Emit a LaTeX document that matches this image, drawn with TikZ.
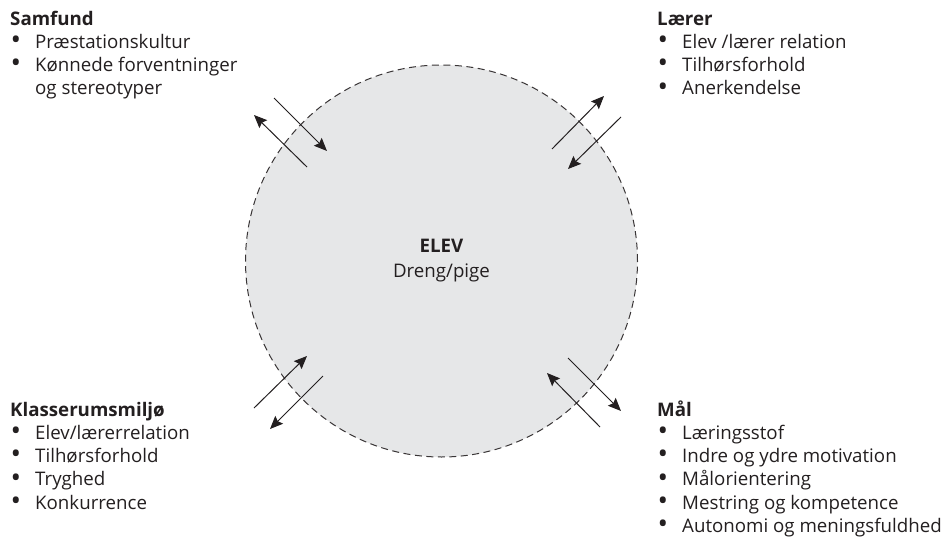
\documentclass[tikz,border=0pt]{standalone}
\usepackage{fontspec}
\setmainfont{Open Sans}
\usetikzlibrary{arrows.meta}
\definecolor{ink}{HTML}{231F20}
\definecolor{discfill}{HTML}{E6E7E8}
\newcommand\bitem[1]{\makebox[25pt][l]{\hspace{0.5pt}\raisebox{-1.2pt}{\scalebox{1.5}{•}}}#1}
\newcommand\blockrows[1]{\begin{tabular}[t]{@{}l@{}}#1\end{tabular}}
\begin{document}
\begin{tikzpicture}[x=1pt,y=-1pt,
  disc/.style={circle, draw=ink!90, fill=discfill, dash pattern=on 7pt off 4.5pt, line width=1pt, minimum size=392pt, inner sep=0pt},
  flow/.style={draw=ink, line width=1pt, -{Stealth[length=13pt,width=11pt,inset=2pt]}},
  block/.style={anchor=base west, inner sep=0pt, text=ink, font=\fontsize{18.7}{23.3}\selectfont},
  centre/.style={anchor=base, inner sep=0pt, text=ink, font=\fontsize{18.7}{25}\selectfont, align=center}
  ]
\useasboundingbox (0,0) rectangle (951,541);
\node[disc] (circ) at (441.5,261) {};
\node[centre] (elev) at (441.5,277) {\textbf{ELEV}\\Dreng/pige};

\node[block] (samfund) at (10,25) {\blockrows{\textbf{Samfund}\\\bitem{Præstationskultur}\\\bitem{Kønnede forventninger}\\\hspace{25pt}og stereotyper}};
\node[block] (laerer) at (657,25) {\blockrows{\textbf{Lærer}\\\bitem{Elev /lærer relation}\\\bitem{Tilhørsforhold}\\\bitem{Anerkendelse}}};
\node[block] (klasse) at (10,416) {\blockrows{\textbf{Klasserumsmiljø}\\\bitem{Elev/lærerrelation}\\\bitem{Tilhørsforhold}\\\bitem{Tryghed}\\\bitem{Konkurrence}}};
\node[block] (maal) at (657,416) {\blockrows{\textbf{Mål}\\\bitem{Læringsstof}\\\bitem{Indre og ydre motivation}\\\bitem{Målorientering}\\\bitem{Mestring og kompetence}\\\bitem{Autonomi og meningsfuldhed}}};

% top-left pair
\coordinate (a1s) at (307,167); \coordinate (a1e) at (254,115);
\coordinate (a2s) at (274,98);  \coordinate (a2e) at (327,151);
% top-right pair
\coordinate (b1s) at (552,149); \coordinate (b1e) at (604,96);
\coordinate (b2s) at (621,117); \coordinate (b2e) at (568,169);
% bottom-left pair
\coordinate (c1s) at (254,408); \coordinate (c1e) at (307,356);
\coordinate (c2s) at (323,376); \coordinate (c2e) at (270,429);
% bottom-right pair
\coordinate (d1s) at (568,358); \coordinate (d1e) at (621,411);
\coordinate (d2s) at (600,427); \coordinate (d2e) at (547,373);

\draw[flow] (a1s) -- (a1e);
\draw[flow] (a2s) -- (a2e);
\draw[flow] (b1s) -- (b1e);
\draw[flow] (b2s) -- (b2e);
\draw[flow] (c1s) -- (c1e);
\draw[flow] (c2s) -- (c2e);
\draw[flow] (d1s) -- (d1e);
\draw[flow] (d2s) -- (d2e);
\end{tikzpicture}
\end{document}
